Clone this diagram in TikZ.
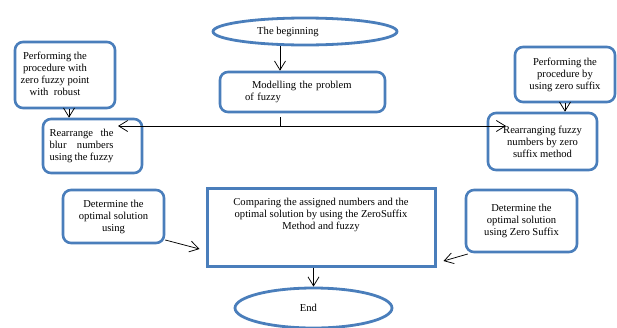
\documentclass[tikz,border=0pt]{standalone}
\usepackage{fontspec}
\setmainfont{Liberation Serif}
\usetikzlibrary{arrows.meta,shapes.geometric}
\definecolor{boxblue}{HTML}{4A7EBB}
\begin{document}
\begin{tikzpicture}[x=1pt,y=-1pt,
  every node/.style={font=\fontsize{10.6}{12}\selectfont, inner sep=0pt},
  rbox/.style={draw=boxblue, line width=2.6pt, rounded corners=8pt, rectangle},
  sbox/.style={draw=boxblue, line width=3pt, rectangle},
  oval/.style={draw=boxblue, line width=2.8pt, ellipse},
  conn/.style={draw=black, line width=0.75pt, -{Straight Barb[length=9pt,width=11pt]}},
  plain/.style={draw=black, line width=0.75pt}]
\useasboundingbox (0,0) rectangle (617,327);
\clip (0,0) rectangle (617,327);

\node[oval, minimum width=184pt, minimum height=27pt] (begin) at (305,31.5) {\hspace*{-34pt}The beginning};
\node[rbox, minimum width=165pt, minimum height=40pt, text width=115pt, align=left] (model) at (302.5,92) {\hspace*{7pt}Modelling the problem\\of fuzzy};
\node[rbox, minimum width=100pt, minimum height=66pt] (tl) at (65,75) {\begin{tabular}{@{}c@{}}Performing the\\procedure with\\zero fuzzy point\\with\ \ robust\end{tabular}\hspace*{20pt}};
\node[rbox, minimum width=99pt, minimum height=54pt] (rl) at (92.5,146) {\begin{tabular}{@{}c@{}}\makebox[64pt][s]{Rearrange\hfill the}\\\makebox[64pt][s]{blur\hfill numbers}\\\makebox[64pt][s]{using the fuzzy}\end{tabular}\hspace*{22pt}};
\node[rbox, minimum width=100pt, minimum height=55pt, align=center] (tr) at (565,74.5) {Performing the\\procedure by\\using zero suffix};
\node[rbox, minimum width=109pt, minimum height=57pt, align=center] (rr) at (542.5,141.5) {Rearranging fuzzy\\numbers by zero\\suffix method};
\node[rbox, minimum width=101pt, minimum height=53pt, align=center] (dl) at (113.5,216.5) {Determine the\\optimal solution\\using};
\node[sbox, minimum width=228pt, minimum height=78pt] (cmp) at (321,227) {\begin{tabular}{@{}c@{}}Comparing the assigned numbers and the\\optimal solution by using the ZeroSuffix\\Method and fuzzy\\~\\~\end{tabular}};
\node[rbox, minimum width=111pt, minimum height=62pt, align=center] (dr) at (521.5,221) {Determine the\\optimal solution\\using Zero Suffix};
\node[oval, minimum width=157pt, minimum height=40pt] (fin) at (313.5,308) {\hspace*{-10pt}End};

\coordinate (axis) at (280,126);
\coordinate (tipL) at (118,126);
\coordinate (tipR) at (506,126);

\draw[conn] (begin.south -| axis) -- (model.north -| axis);
\draw[plain, shorten <=4pt] (model.south -| axis) -- (axis);
\draw[conn] (axis) -- (tipL);
\draw[conn] (axis) -- (tipR);
\path ([xshift=4pt]tl.south) coordinate (tla);
\draw[conn] (tla) -- (tla |- rl.north);
\draw[conn] (tr.south) -- (tr.south |- rr.north);
\draw[conn] ([yshift=-23.5pt]dl.east) -- ([shift={(-6pt,-22pt)}]cmp.west);
\draw[conn] ([shift={(3pt,-33pt)}]dr.west) -- ([shift={(7pt,-34pt)}]cmp.east);
\draw[conn] (cmp.south -| fin.north) -- (fin.north);
\end{tikzpicture}
\end{document}
